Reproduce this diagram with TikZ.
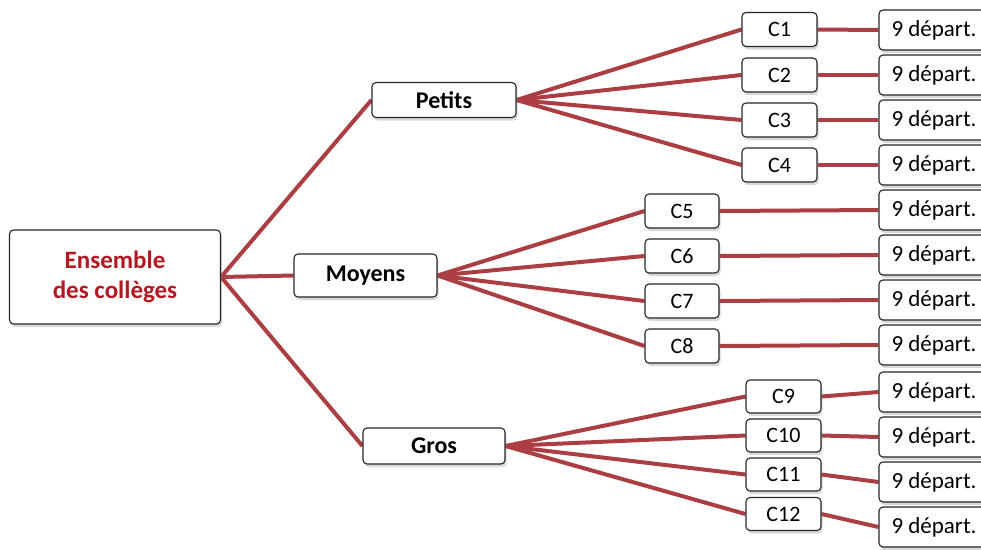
\documentclass[tikz,border=0pt]{standalone}
\usepackage{fontspec}
\setmainfont{Carlito}
\usepackage{xcolor}
\usetikzlibrary{shadows, backgrounds}
\definecolor{TreeRed}{RGB}{170, 62, 66}
\definecolor{RootRed}{RGB}{178, 24, 34}

\begin{document}
\begin{tikzpicture}[x=1pt, y=-1pt,
  box/.style={rounded corners=4pt, fill=white, draw=black!85, line width=1.1pt,
    align=center, inner sep=0pt,
    drop shadow={opacity=0.3, shadow xshift=1.5pt, shadow yshift=-3pt}},
  branch/.style={draw=TreeRed, line width=4pt}]
  \useasboundingbox (0,0) rectangle (981,549);

  % racine
  \node[box, minimum width=211, minimum height=94, text=RootRed,
        font=\fontsize{25}{30}\selectfont\bfseries] (root) at (115,277)
    {Ensemble\\des collèges};

  % tailles
  \node[box, minimum width=144, minimum height=35,
        font=\fontsize{24}{28}\selectfont\bfseries] (petits) at (444,100) {Petits};
  \node[box, minimum width=143, minimum height=43,
        font=\fontsize{24}{28}\selectfont\bfseries] (moyens) at (365.5,275.5) {Moyens};
  \node[box, minimum width=142, minimum height=36,
        font=\fontsize{24}{28}\selectfont\bfseries] (gros) at (434,446) {Gros};

  % colleges
  \foreach \i/\y in {1/29.5, 2/75, 3/120, 4/165}
    \node[box, minimum width=75, minimum height=34,
          font=\fontsize{22}{26}\selectfont] (c\i) at (779.5,\y) {C\i};
  \foreach \i/\y in {5/211, 6/256, 7/301, 8/346}
    \node[box, minimum width=74, minimum height=34,
          font=\fontsize{22}{26}\selectfont] (c\i) at (682,\y) {C\i};
  \foreach \i/\y in {9/396.5, 10/435.5, 11/474.5, 12/514}
    \node[box, minimum width=75, minimum height=33,
          font=\fontsize{22}{26}\selectfont] (c\i) at (783.5,\y) {C\i};

  % departements
  \foreach \i/\y in {1/30, 2/75, 3/120, 4/165, 5/210, 6/255, 7/300, 8/345,
                     9/392, 10/437, 11/482, 12/527}
    \node[box, minimum width=110, minimum height=40,
          font=\fontsize{23}{27}\selectfont] (d\i) at (934,\y) {9 départ.};

  \begin{scope}[on background layer]
    \draw[branch] (root.east) -- (petits.west);
    \draw[branch] (root.east) -- (moyens.west);
    \draw[branch] (root.east) -- (gros.west);
    \foreach \i in {1,...,4} \draw[branch] (petits.east) -- (c\i.west);
    \foreach \i in {5,...,8} \draw[branch] (moyens.east) -- (c\i.west);
    \foreach \i in {9,...,12} \draw[branch] (gros.east) -- (c\i.west);
    \foreach \i in {1,...,12} \draw[branch] (c\i.east) -- (d\i.west);
  \end{scope}
\end{tikzpicture}
\end{document}
